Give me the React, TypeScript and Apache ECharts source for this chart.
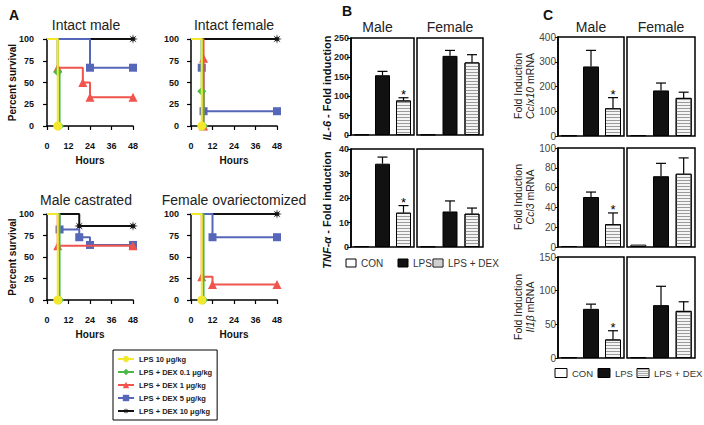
import React, { useEffect, useRef } from 'react';
import * as echarts from 'echarts';

const FONT = '"Liberation Sans", Arial, Helvetica, sans-serif';

// ---------- Panel A: survival ----------
const groupNames = [
  'LPS 10 μg/kg',
  'LPS + DEX 0.1 μg/kg',
  'LPS + DEX 1 μg/kg',
  'LPS + DEX 5 μg/kg',
  'LPS + DEX 10 μg/kg',
];
const groupColors = ['#f2e92e', '#4cb848', '#f0544c', '#5666b8', '#111111'];
const hourTicks = [0, 12, 24, 36, 48];
const survivalTicks = [0, 25, 50, 75, 100];

// [hours, percent survival] for each group (order as groupNames)
const intactMale = [
  [[0, 100], [6, 0]],
  [[0, 100], [6, 62], [7, 0]],
  [[0, 100], [6, 67], [20, 50], [24, 33], [48, 33]],
  [[0, 100], [24, 67], [48, 67]],
  [[0, 100], [48, 100]],
];
const intactFemale = [
  [[0, 100], [6, 0]],
  [[0, 100], [6, 40], [7, 0]],
  [[0, 100], [7, 78], [7, 0]],
  [[0, 100], [6, 67], [7, 17], [48, 17]],
  [[0, 100], [48, 100]],
];
const maleCastrated = [
  [[0, 100], [6, 0]],
  [[0, 100], [7, 0]],
  [[0, 100], [6, 63], [48, 63]],
  [[0, 100], [7, 82], [18, 73], [24, 64], [48, 64]],
  [[0, 100], [18, 86], [48, 86]],
];
const femaleOvx = [
  [[0, 100], [6, 0]],
  [[0, 100], [7, 0]],
  [[0, 100], [6, 27], [12, 18], [48, 18]],
  [[0, 100], [12, 73], [48, 73]],
  [[0, 100], [48, 100]],
];
const survivalTitles = ['Intact male', 'Intact female', 'Male castrated', 'Female ovariectomized'];
const survivalData = [intactMale, intactFemale, maleCastrated, femaleOvx];

// ---------- Panel B / C: fold induction ----------
const barCats = ['CON', 'LPS', 'LPS + DEX'];
const sexes = ['Male', 'Female'];

const il6Male = [1, 154, 89];
const il6MaleErr = [0, 10, 7];
const il6Female = [1, 204, 187];
const il6FemaleErr = [0, 14, 20];
const tnfMale = [0.3, 34, 14];
const tnfMaleErr = [0, 2.7, 2.9];
const tnfFemale = [0.2, 14.5, 13.6];
const tnfFemaleErr = [0, 4.3, 2.3];

const cxcl10Male = [2, 281, 112];
const cxcl10MaleErr = [0, 65, 43];
const cxcl10Female = [3, 184, 154];
const cxcl10FemaleErr = [0, 30, 23];
const ccl3Male = [1, 50.5, 23];
const ccl3MaleErr = [0, 5, 11.4];
const ccl3Female = [2.4, 71.5, 74];
const ccl3FemaleErr = [0, 13, 16];
const il1bMale = [1, 73, 27.5];
const il1bMaleErr = [0, 7, 13];
const il1bFemale = [1, 78.5, 70];
const il1bFemaleErr = [0, 28, 13.5];

const maleSig = [false, false, true];
const femaleSig = [false, false, false];

function starPath(n: number, r1: number, r2: number) {
  let d = '';
  for (let i = 0; i < 2 * n; i++) {
    const a = (Math.PI * i) / n;
    const r = i % 2 ? r2 : r1;
    d += (i ? 'L' : 'M') + (10 + r * Math.sin(a)).toFixed(2) + ' ' + (10 - r * Math.cos(a)).toFixed(2) + ' ';
  }
  return 'path://' + d + 'Z';
}
const groupSymbols = ['circle', 'diamond', 'triangle', 'rect', starPath(8, 10, 3.5)];
const groupSymbolSize = [9, 9, 9, 8, 10];

export default function App() {
  const ref = useRef<HTMLDivElement>(null);
  useEffect(() => {
    document.body.style.margin = '0';
    if (!ref.current) return;
    const chart = echarts.init(ref.current, null, { renderer: 'svg' });

    const grids: any[] = [];
    const xAxes: any[] = [];
    const yAxes: any[] = [];
    const series: any[] = [];
    const graphics: any[] = [];

    // survival grids
    const sGrids = [
      { left: 47, top: 39, width: 86, height: 87, yOff: 10 },
      { left: 191, top: 39, width: 86, height: 87, yOff: 9 },
      { left: 47, top: 214, width: 86, height: 86, yOff: 10 },
      { left: 191, top: 214, width: 86, height: 86, yOff: 9 },
    ];
    const boldTick = { fontSize: 9, fontWeight: 'bold', color: '#111', fontFamily: FONT };
    sGrids.forEach((g, gi) => {
      grids.push({ left: g.left, top: g.top, width: g.width, height: g.height });
      xAxes.push({
        type: 'value', gridIndex: gi, min: hourTicks[0], max: hourTicks[hourTicks.length - 1], interval: 12,
        offset: 11,
        axisLine: { show: true, lineStyle: { color: '#000', width: 1.5 } },
        axisTick: { show: true, length: 4, lineStyle: { color: '#000', width: 1.2 } },
        axisLabel: { ...boldTick, margin: 4 },
        splitLine: { show: false },
      });
      yAxes.push({
        type: 'value', gridIndex: gi, min: survivalTicks[0], max: survivalTicks[survivalTicks.length - 1], interval: 25,
        offset: g.yOff,
        axisLine: { show: true, lineStyle: { color: '#000', width: 1.5 } },
        axisTick: { show: true, length: 4, lineStyle: { color: '#000', width: 1.2 } },
        axisLabel: { ...boldTick, margin: 3 },
        splitLine: { show: false },
      });
      const data = survivalData[gi];
      // draw black first, yellow last (on top)
      for (let k = groupNames.length - 1; k >= 0; k--) {
        series.push({
          type: 'line', name: groupNames[k], xAxisIndex: gi, yAxisIndex: gi,
          step: 'end', clip: false, showAllSymbol: true,
          symbol: groupSymbols[k], symbolSize: groupSymbolSize[k],
          data: data[k].map((p, i) => (i === 0 ? { value: p, symbol: 'none' } : p)),
          lineStyle: { color: groupColors[k], width: 2 },
          itemStyle: { color: groupColors[k] },
          z: 2 + (groupNames.length - k),
        });
      }
      const cx = g.left + g.width / 2;
      graphics.push({
        type: 'text', x: cx - (gi % 2 === 0 ? 4 : 0), y: g.top - 14,
        style: { text: survivalTitles[gi], font: `14px ${FONT}`, fill: '#222', align: 'center', verticalAlign: 'middle' },
      });
      graphics.push({
        type: 'text', x: cx, y: g.top + g.height + 34,
        style: { text: 'Hours', font: `bold 10px ${FONT}`, fill: '#111', align: 'center', verticalAlign: 'middle' },
      });
      if (gi % 2 === 0) {
        graphics.push({
          type: 'text', x: 12, y: g.top + g.height / 2, rotation: Math.PI / 2,
          style: { text: 'Percent survival', font: `bold 10px ${FONT}`, fill: '#111', align: 'center', verticalAlign: 'middle' },
        });
      }
    });

    // bar panels
    const barStyles = [
      { color: '#ffffff', borderColor: '#000', borderWidth: 1 },
      { color: '#111111', borderColor: '#000', borderWidth: 1 },
      {
        color: '#f4f4f4', borderColor: '#000', borderWidth: 1,
        decal: { symbol: 'rect', symbolSize: 1, dashArrayX: [1, 0], dashArrayY: [1, 1.6], color: '#9a9a9a', rotation: 0 },
      },
    ];
    const barPanels = [
      // B
      { left: 351, top: 38, width: 63, height: 97, max: 250, interval: 50, vals: il6Male, errs: il6MaleErr, sig: maleSig, showY: true, bw: 15, style: 'B' },
      { left: 417, top: 38, width: 66, height: 97, max: 250, interval: 50, vals: il6Female, errs: il6FemaleErr, sig: femaleSig, showY: false, bw: 15, style: 'B' },
      { left: 351, top: 149, width: 63, height: 98, max: 40, interval: 10, vals: tnfMale, errs: tnfMaleErr, sig: maleSig, showY: true, bw: 15, style: 'B' },
      { left: 417, top: 149, width: 66, height: 98, max: 40, interval: 10, vals: tnfFemale, errs: tnfFemaleErr, sig: femaleSig, showY: false, bw: 15, style: 'B' },
      // C
      { left: 558, top: 37, width: 66, height: 99, max: 400, interval: 100, vals: cxcl10Male, errs: cxcl10MaleErr, sig: maleSig, showY: true, bw: 16, style: 'C' },
      { left: 627, top: 37, width: 68, height: 99, max: 400, interval: 100, vals: cxcl10Female, errs: cxcl10FemaleErr, sig: femaleSig, showY: false, bw: 16, style: 'C' },
      { left: 558, top: 148, width: 66, height: 99, max: 100, interval: 20, vals: ccl3Male, errs: ccl3MaleErr, sig: maleSig, showY: true, bw: 16, style: 'C' },
      { left: 627, top: 148, width: 68, height: 99, max: 100, interval: 20, vals: ccl3Female, errs: ccl3FemaleErr, sig: femaleSig, showY: false, bw: 16, style: 'C' },
      { left: 558, top: 257, width: 66, height: 101, max: 150, interval: 50, vals: il1bMale, errs: il1bMaleErr, sig: maleSig, showY: true, bw: 16, style: 'C' },
      { left: 627, top: 257, width: 68, height: 101, max: 150, interval: 50, vals: il1bFemale, errs: il1bFemaleErr, sig: femaleSig, showY: false, bw: 16, style: 'C' },
    ];
    barPanels.forEach((p) => {
      const gi = grids.length;
      grids.push({ left: p.left, top: p.top, width: p.width, height: p.height, show: true, borderColor: '#000', borderWidth: 1.5, backgroundColor: 'transparent' });
      xAxes.push({ type: 'category', gridIndex: gi, data: barCats, show: false });
      const isB = p.style === 'B';
      yAxes.push({
        type: 'value', gridIndex: gi, min: 0, max: p.max, interval: p.interval, show: p.showY,
        axisLine: { show: true, lineStyle: { color: '#000', width: 1.5 } },
        axisTick: { show: true, length: isB ? 4 : 3, lineStyle: { color: '#000', width: 1 } },
        axisLabel: isB
          ? { fontSize: 9, fontWeight: 'bold', color: '#222', fontFamily: FONT, margin: 2 }
          : { fontSize: 10, color: '#444', fontFamily: FONT, margin: 2 },
        splitLine: { show: false },
      });
      series.push({
        type: 'bar', xAxisIndex: gi, yAxisIndex: gi, barWidth: p.bw,
        data: p.vals.map((v, i) => ({ value: v, itemStyle: barStyles[i] })),
        z: 2,
      });
      series.push({
        type: 'custom', xAxisIndex: gi, yAxisIndex: gi, z: 5,
        data: p.vals.map((v, i) => [i, v, p.errs[i], p.sig[i] ? 1 : 0]),
        renderItem: (params: any, api: any) => {
          const i = api.value(0), m = api.value(1), e = api.value(2), s = api.value(3);
          const base = api.coord([i, m]);
          const top = api.coord([i, m + e]);
          const children: any[] = [];
          if (e > 0) {
            children.push({ type: 'line', shape: { x1: base[0], y1: base[1], x2: top[0], y2: top[1] }, style: { stroke: '#000', lineWidth: 1.2 } });
            children.push({ type: 'line', shape: { x1: top[0] - 5, y1: top[1], x2: top[0] + 5, y2: top[1] }, style: { stroke: '#000', lineWidth: 1.2 } });
          }
          if (s) {
            children.push({ type: 'text', x: top[0], y: top[1] + 3, style: { text: '*', font: `13px ${FONT}`, fill: '#000', align: 'center', verticalAlign: 'bottom' } });
          }
          return { type: 'group', children };
        },
      });
      if (p.top < 40) {
        const isMale = p.showY;
        graphics.push({
          type: 'text', x: p.left + p.width / 2 + (isB ? (isMale ? -5 : 0) : 0), y: 27,
          style: { text: isMale ? sexes[0] : sexes[1], font: `14px ${FONT}`, fill: '#222', align: 'center', verticalAlign: 'middle' },
        });
      }
    });

    // panel letters
    [['A', 14, 15], ['B', 347, 11], ['C', 548, 15]].forEach(([t, x, y]) => {
      graphics.push({ type: 'text', x, y, style: { text: t, font: `bold 14px ${FONT}`, fill: '#111', align: 'center', verticalAlign: 'middle' } });
    });

    // B y labels
    const richIt = { it: { fontStyle: 'italic', fontWeight: 'bold', fontSize: 11, fontFamily: FONT, fill: '#111' } };
    graphics.push({
      type: 'text', x: 327, y: 88, rotation: Math.PI / 2,
      style: { text: '{it|IL-6} - Fold induction', font: `bold 11px ${FONT}`, fill: '#111', align: 'center', verticalAlign: 'middle', rich: richIt },
    });
    graphics.push({
      type: 'text', x: 327, y: 210, rotation: Math.PI / 2,
      style: { text: '{it|TNF-α} - Fold induction', font: `bold 11px ${FONT}`, fill: '#111', align: 'center', verticalAlign: 'middle', rich: richIt },
    });

    // C y labels
    const cLabels = [
      { y: 86, gene: 'Cclx10' },
      { y: 197, gene: 'Ccl3' },
      { y: 307, gene: 'Il1β' },
    ];
    const richC = { it: { fontStyle: 'italic', fontSize: 10.5, fontFamily: FONT, fill: '#222' } };
    cLabels.forEach((c) => {
      graphics.push({
        type: 'text', x: 518, y: c.y, rotation: Math.PI / 2,
        style: { text: 'Fold Induction', font: `10.5px ${FONT}`, fill: '#222', align: 'center', verticalAlign: 'middle' },
      });
      graphics.push({
        type: 'text', x: 530, y: c.y, rotation: Math.PI / 2,
        style: { text: `{it|${c.gene}} mRNA`, font: `10.5px ${FONT}`, fill: '#222', align: 'center', verticalAlign: 'middle', rich: richC },
      });
    });

    // B and C legends
    const addBarLegend = (y: number, xs: number[], w: number, h: number, fs: number) => {
      barCats.forEach((name, i) => {
        const bx = xs[i];
        const fill = i === 0 ? '#fff' : i === 1 ? '#111' : '#f4f4f4';
        graphics.push({ type: 'rect', shape: { x: bx, y: y - h / 2, width: w, height: h }, style: { fill, stroke: '#000', lineWidth: 1 } });
        if (i === 2) {
          for (let k = 1; k < h; k += 2) {
            graphics.push({ type: 'line', shape: { x1: bx + 0.5, y1: y - h / 2 + k, x2: bx + w - 0.5, y2: y - h / 2 + k }, style: { stroke: '#999', lineWidth: 0.8 } });
          }
        }
        graphics.push({ type: 'text', x: bx + w + 5, y, style: { text: name, font: `${fs}px ${FONT}`, fill: '#333', align: 'left', verticalAlign: 'middle' } });
      });
    };
    addBarLegend(263, [346, 398, 433], 10, 8, 10);
    addBarLegend(373, [555, 598, 637], 12, 9, 9.5);

    chart.setOption({
      animation: false,
      textStyle: { fontFamily: FONT },
      grid: grids,
      xAxis: xAxes,
      yAxis: yAxes,
      series,
      legend: {
        left: 113, top: 350, orient: 'vertical', selectedMode: false,
        data: groupNames,
        itemWidth: 16, itemHeight: 8, itemGap: 5,
        padding: [5, 5, 5, 4],
        borderColor: '#000', borderWidth: 1,
        textStyle: { fontSize: 7.5, fontWeight: 'bold', color: '#222', fontFamily: FONT },
      },
      graphic: graphics,
    });
    return () => chart.dispose();
  }, []);
  return <div ref={ref} style={{ position: 'absolute', left: 0, top: 0, width: 704, height: 425 }} />;
}
